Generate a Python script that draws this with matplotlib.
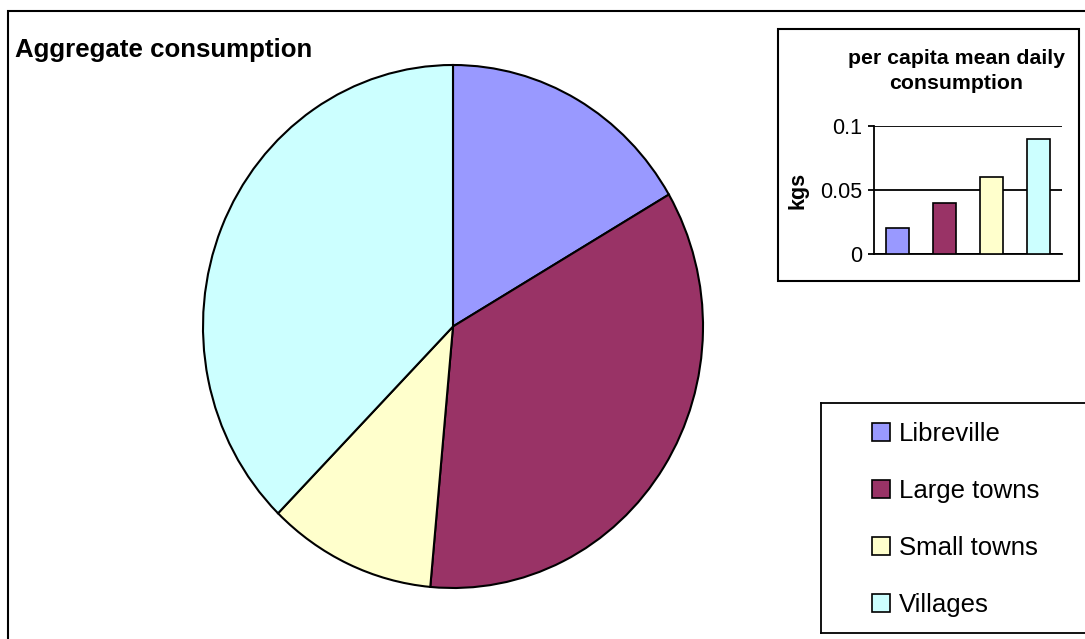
import matplotlib
matplotlib.use('Agg')
import matplotlib.pyplot as plt
from matplotlib.patches import Rectangle, Patch

# data
categories = ['Libreville', 'Large towns', 'Small towns', 'Villages']
colors = ['#9999FF', '#993366', '#FFFFCC', '#CCFFFF']
aggregate_share = [16.6, 34.9, 10.9, 37.7]
per_capita_kgs = [0.02, 0.04, 0.06, 0.09]
ytick_vals = [0, 0.05, 0.1]
ytick_labels = ['0', '0.05', '0.1']
pie_title = 'Aggregate consumption'
bar_title = ['per capita mean daily', 'consumption']
bar_ylabel = 'kgs'

W, H = 1085, 639
plt.rcParams['font.family'] = ['Liberation Sans', 'DejaVu Sans']

fig = plt.figure(figsize=(W / 100, H / 100), dpi=100)
fig.patch.set_facecolor('white')

def px_box(left, top, right, bottom):
    return [left / W, 1 - bottom / H, (right - left) / W, (bottom - top) / H]

def fx(x):
    return x / W

def fy(y):
    return 1 - y / H

# outer chart frame (runs off the right and bottom edges)
fig.add_artist(Rectangle((fx(8), -0.05), 1.1, fy(11) + 0.05, transform=fig.transFigure,
                         fill=False, lw=1.5, ec='black'))

fig.text(fx(15), fy(57), pie_title, fontsize=18.6, fontweight='bold', va='baseline', ha='left')

# pie
ax_pie = fig.add_axes(px_box(203, 65, 703, 588))
ax_pie.pie(aggregate_share, colors=colors, startangle=90, counterclock=False,
           wedgeprops=dict(edgecolor='black', linewidth=1.5))
ax_pie.set_aspect('auto')
ax_pie.set_xlim(-1, 1)
ax_pie.set_ylim(-1, 1)

# inset bar chart
fig.add_artist(Rectangle((fx(778), fy(281)), (1079 - 778) / W, (281 - 29) / H,
                         transform=fig.transFigure, fill=False, lw=1.5, ec='black'))
ax_bar = fig.add_axes(px_box(874, 126, 1062, 254))
ax_bar.bar(range(len(categories)), per_capita_kgs, width=0.51, color=colors,
           edgecolor='black', linewidth=1.2, zorder=3)
ax_bar.set_xlim(-0.5, len(categories) - 0.5)
ax_bar.set_ylim(0, 0.1)
ax_bar.set_yticks(ytick_vals)
ax_bar.set_yticklabels(ytick_labels, fontsize=15.5)
ax_bar.set_xticks([])
ax_bar.tick_params(axis='y', length=4.3, width=1.3, pad=4.3)
ax_bar.grid(axis='y', color='black', linewidth=1.3, zorder=0)
for side in ['top', 'right']:
    ax_bar.spines[side].set_visible(False)
ax_bar.spines['left'].set_linewidth(1.3)
ax_bar.spines['bottom'].set_linewidth(1.3)
ax_bar.set_ylabel(bar_ylabel, fontsize=15.5, fontweight='bold')
ax_bar.yaxis.set_label_coords(-0.35, 0.5)
ax_bar.patch.set_alpha(0)

fig.text(fx(956), fy(64), bar_title[0], fontsize=15.3, fontweight='bold', ha='center', va='baseline')
fig.text(fx(956), fy(89), bar_title[1], fontsize=15.3, fontweight='bold', ha='center', va='baseline')

# legend box
ax_leg = fig.add_axes(px_box(821, 403, 1100, 633))
ax_leg.set_xticks([])
ax_leg.set_yticks([])
ax_leg.spines['right'].set_visible(False)
for side in ['top', 'left', 'bottom']:
    ax_leg.spines[side].set_linewidth(1.3)
handles = [Patch(facecolor=c, edgecolor='black', linewidth=1.2) for c in colors]
ax_leg.legend(handles, categories, loc='upper left', bbox_to_anchor=(fx(872), fy(422)),
              bbox_transform=fig.transFigure, frameon=False, fontsize=18.5,
              handlelength=0.7, handleheight=0.7, handletextpad=0.35,
              labelspacing=1.28, borderpad=0, borderaxespad=0)

fig.savefig('out.png', dpi=100)
